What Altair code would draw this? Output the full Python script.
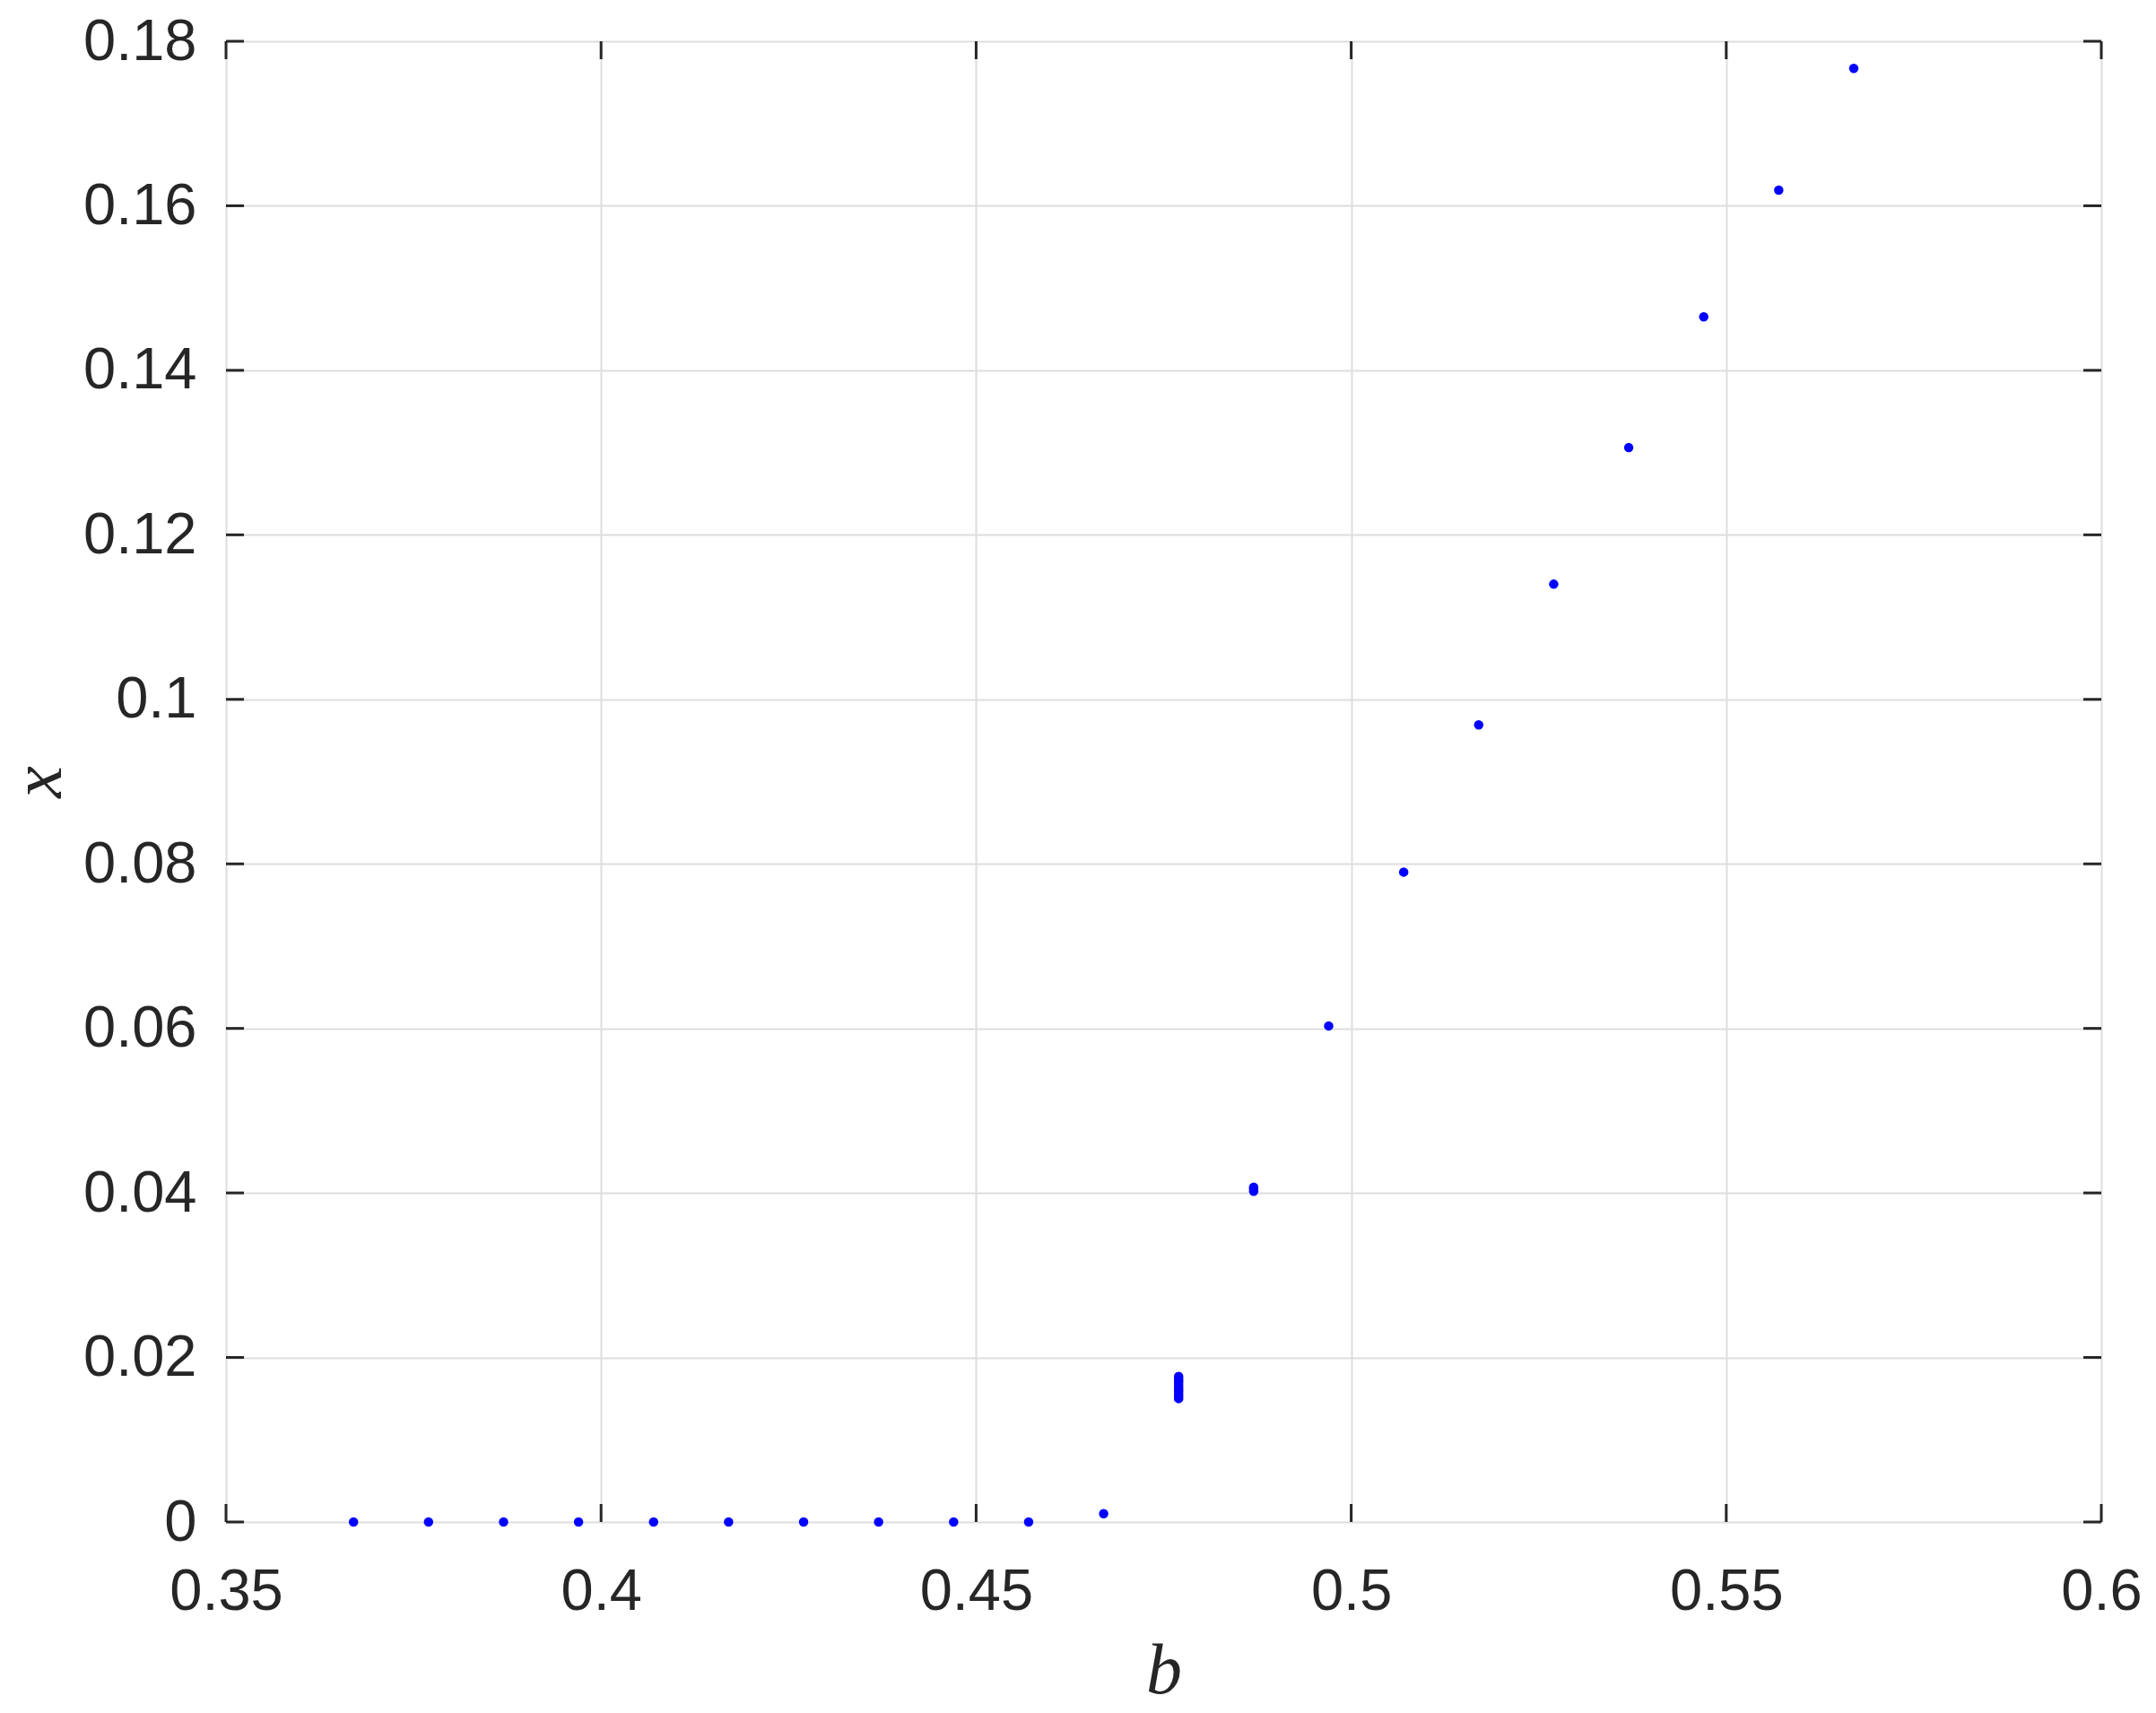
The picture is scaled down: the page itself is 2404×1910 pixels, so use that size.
import altair as alt
import pandas as pd

# data
b_low = [0.367, 0.377, 0.387, 0.397, 0.407, 0.417, 0.427, 0.437, 0.447, 0.457]
x_low = [0, 0, 0, 0, 0, 0, 0, 0, 0, 0]
b_467 = [0.467]
x_467 = [0.001]
b_477 = [0.477] * 10
x_477 = [0.0150, 0.0153, 0.0156, 0.0159, 0.0162, 0.0165, 0.0168, 0.0171, 0.0174, 0.0177]
b_487 = [0.487, 0.487, 0.487]
x_487 = [0.0402, 0.0405, 0.0407]
b_high = [0.497, 0.507, 0.517, 0.527, 0.537, 0.547, 0.557, 0.567]
x_high = [0.0603, 0.0790, 0.0969, 0.1140, 0.1306, 0.1465, 0.1619, 0.1767]

x_ticks = [0.35, 0.4, 0.45, 0.5, 0.55, 0.6]
y_ticks = [0, 0.02, 0.04, 0.06, 0.08, 0.1, 0.12, 0.14, 0.16, 0.18]

df = pd.DataFrame({
    "b": b_low + b_467 + b_477 + b_487 + b_high,
    "x": x_low + x_467 + x_477 + x_487 + x_high,
})
xt = pd.DataFrame({"t": x_ticks})
yt = pd.DataFrame({"t": y_ticks})

W, H = 2091, 1651
TICK = 20
AX = "#262626"
LF = 65
TF = 80

xscale = alt.Scale(domain=[0.35, 0.6], nice=False, zero=False)
yscale = alt.Scale(domain=[0, 0.18], nice=False, zero=False)

points = alt.Chart(df).mark_circle(size=110, color="#0000ff", opacity=1).encode(
    x=alt.X("b:Q", scale=xscale, title="b",
            axis=alt.Axis(values=x_ticks, format="~g", grid=True, gridColor="#dedede",
                          gridWidth=2, ticks=False, domain=False,
                          labelFont="Liberation Sans", labelFontSize=LF, labelColor=AX,
                          labelPadding=46, labelFlush=False,
                          titleFont="Liberation Serif", titleFontStyle="italic",
                          titleFontWeight="normal", titleFontSize=TF, titleColor=AX,
                          titlePadding=17)),
    y=alt.Y("x:Q", scale=yscale, title="x",
            axis=alt.Axis(values=y_ticks, format="~g", grid=True, gridColor="#dedede",
                          gridWidth=2, ticks=False, domain=False,
                          labelFont="Liberation Sans", labelFontSize=LF, labelColor=AX,
                          labelPadding=33, labelFlush=False,
                          titleFont="Liberation Serif", titleFontStyle="italic",
                          titleFontWeight="normal", titleFontSize=TF, titleColor=AX,
                          titlePadding=8)),
)

tick_style = dict(color=AX, strokeWidth=3)
xb = alt.Chart(xt).mark_rule(**tick_style).encode(
    x=alt.X("t:Q", scale=xscale), y=alt.value(H), y2=alt.value(H - TICK))
xtp = alt.Chart(xt).mark_rule(**tick_style).encode(
    x=alt.X("t:Q", scale=xscale), y=alt.value(0), y2=alt.value(TICK))
yl = alt.Chart(yt).mark_rule(**tick_style).encode(
    y=alt.Y("t:Q", scale=yscale), x=alt.value(0), x2=alt.value(TICK))
yr = alt.Chart(yt).mark_rule(**tick_style).encode(
    y=alt.Y("t:Q", scale=yscale), x=alt.value(W), x2=alt.value(W - TICK))

chart = alt.layer(points, xb, xtp, yl, yr).properties(
    width=W, height=H,
    autosize=alt.AutoSizeParams(type="none"),
    padding={"left": 244, "top": 38, "right": 45, "bottom": 200},
).configure_view(stroke=AX, strokeWidth=3).configure(background="white")

chart.save("out.html", embed_options={"renderer": "svg", "actions": False})
